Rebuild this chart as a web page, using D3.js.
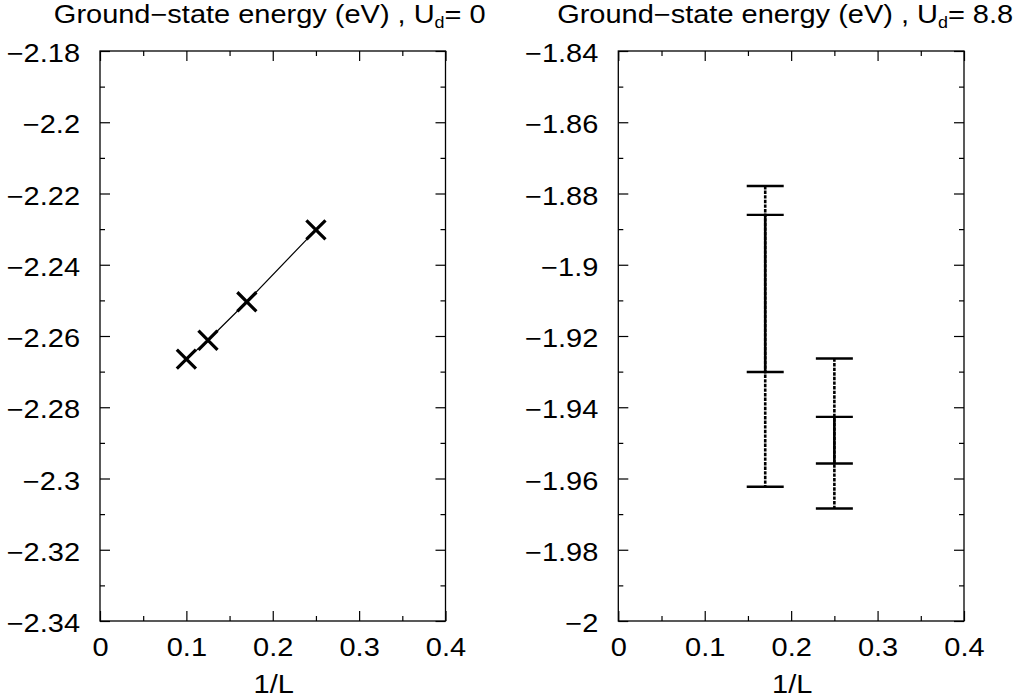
<!DOCTYPE html>
<html>
<head>
<meta charset="utf-8">
<script src="https://cdn.jsdelivr.net/npm/d3@7"></script>
<style>
  html, body { margin: 0; padding: 0; background: #fff; }
  svg { display: block; font-family: "Liberation Sans", Arial, Helvetica, sans-serif; }
</style>
</head>
<body>
<svg id="chart" width="1017" height="700"></svg>
<script>
// Shared x axis (1/L)
const xTicks = [0, 0.1, 0.2, 0.3, 0.4];
const xMinorTicks = [0.05, 0.15, 0.25, 0.35];

// Left panel: U_d = 0
const leftYTicks = [-2.34, -2.32, -2.30, -2.28, -2.26, -2.24, -2.22, -2.20, -2.18];
const leftYMinor = [-2.33, -2.31, -2.29, -2.27, -2.25, -2.23, -2.21, -2.19];
const invL = [0.1, 0.125, 0.17, 0.25];
const energyU0 = [-2.2665, -2.2612, -2.2504, -2.2302];

// Right panel: U_d = 8.8, nested intervals
const rightYTicks = [-2.00, -1.98, -1.96, -1.94, -1.92, -1.90, -1.88, -1.86, -1.84];
const rightYMinor = [-1.99, -1.97, -1.95, -1.93, -1.91, -1.89, -1.87, -1.85];
const barX = [0.17, 0.25];
const barOuterHi = [-1.8779, -1.9263];
const barInnerHi = [-1.8860, -1.9427];
const barInnerLo = [-1.9301, -1.9558];
const barOuterLo = [-1.9623, -1.9684];

const svg = d3.select("#chart");
const plotTop = 51, plotBottom = 621;
const FS = 25.2;      // font size
const SX = 1.15;      // horizontal stretch of the lettering
const fmt = d3.format("~g");

function frame(x0, x1, yDomain, yMajor, yMinor, titleVal, titleShift) {
  const x = d3.scaleLinear().domain([0, 0.4]).range([x0, x1]);
  const y = d3.scaleLinear().domain(yDomain).range([plotBottom, plotTop]);
  const g = svg.append("g");

  // axes on all four sides, ticks pointing inward
  const axes = [
    [d3.axisBottom(x).tickValues(xTicks).tickSize(-10).tickPadding(17).tickFormat(fmt), `translate(0,${plotBottom})`, "bottom"],
    [d3.axisTop(x).tickValues(xTicks).tickSize(-10).tickFormat(""), `translate(0,${plotTop})`, ""],
    [d3.axisLeft(y).tickValues(yMajor).tickSize(-10).tickPadding(20).tickFormat(fmt), `translate(${x0},0)`, "left"],
    [d3.axisRight(y).tickValues(yMajor).tickSize(-10).tickFormat(""), `translate(${x1},0)`, ""],
    [d3.axisBottom(x).tickValues(xMinorTicks).tickSize(-5).tickFormat(""), `translate(0,${plotBottom})`, ""],
    [d3.axisTop(x).tickValues(xMinorTicks).tickSize(-5).tickFormat(""), `translate(0,${plotTop})`, ""],
    [d3.axisLeft(y).tickValues(yMinor).tickSize(-5).tickFormat(""), `translate(${x0},0)`, ""],
    [d3.axisRight(y).tickValues(yMinor).tickSize(-5).tickFormat(""), `translate(${x1},0)`, ""]
  ];
  axes.forEach(([ax, tr, side]) => {
    const a = g.append("g").attr("transform", tr).call(ax);
    a.select(".domain").remove();
    a.selectAll("line").attr("stroke", "#000").attr("stroke-width", 1.2);
    const txt = a.selectAll("text").attr("fill", "#000").attr("font-size", FS)
      .attr("font-family", "Liberation Sans, Arial, sans-serif");
    if (side === "bottom") txt.attr("dy", "0.71em").attr("transform", `scale(${SX},1)`);
    if (side === "left") txt.attr("dy", "0.42em").attr("x", -20 / SX).attr("transform", `scale(${SX},1)`);
  });

  // plot frame
  g.append("rect").attr("x", x0).attr("y", plotTop).attr("width", x1 - x0).attr("height", plotBottom - plotTop)
    .attr("fill", "none").attr("stroke", "#000").attr("stroke-width", 1.3);

  // x axis title
  g.append("g").attr("transform", `translate(${(x0 + x1) / 2 + 1},693) scale(${SX},1)`)
    .append("text").attr("text-anchor", "middle").attr("font-size", FS).text("1/L");

  // panel title with subscript
  const t = g.append("g").attr("transform", `translate(${(x0 + x1) / 2 + titleShift},23) scale(${SX},1)`)
    .append("text").attr("text-anchor", "middle").attr("font-size", FS);
  t.append("tspan").text("Ground\u2212state energy (eV) , U");
  t.append("tspan").attr("font-size", FS * 0.62).attr("dy", 5).text("d");
  t.append("tspan").attr("dy", -5).text("= " + titleVal);

  return { g, x, y };
}

// Left panel
const L = frame(100, 445.5, [-2.34, -2.18], leftYTicks, leftYMinor, "0", -3);
const pts = invL.map((v, i) => [v, energyU0[i]]);
L.g.append("path").datum(pts)
  .attr("d", d3.line().x(d => L.x(d[0])).y(d => L.y(d[1])))
  .attr("fill", "none").attr("stroke", "#000").attr("stroke-width", 1.2);
L.g.selectAll(".mk").data(pts).join("path")
  .attr("d", d3.symbol(d3.symbolTimes, 240))
  .attr("transform", d => `translate(${L.x(d[0])},${L.y(d[1])})`)
  .attr("fill", "none").attr("stroke", "#000").attr("stroke-width", 3.2);

// Right panel
const R = frame(618.3, 964, [-2.00, -1.84], rightYTicks, rightYMinor, "8.8", -6);
const capHalf = 18.5;
const bars = barX.map((v, i) => ({ x: v, oh: barOuterHi[i], ih: barInnerHi[i], il: barInnerLo[i], ol: barOuterLo[i] }));
const bg = R.g.selectAll(".bar").data(bars).join("g");
// dotted outer range
bg.append("line")
  .attr("x1", d => R.x(d.x)).attr("x2", d => R.x(d.x))
  .attr("y1", d => R.y(d.oh)).attr("y2", d => R.y(d.ol))
  .attr("stroke", "#000").attr("stroke-width", 2.6).attr("stroke-dasharray", "3.4,1.2");
// solid inner range
bg.append("line")
  .attr("x1", d => R.x(d.x)).attr("x2", d => R.x(d.x))
  .attr("y1", d => R.y(d.ih)).attr("y2", d => R.y(d.il))
  .attr("stroke", "#000").attr("stroke-width", 2.6);
// caps
bg.selectAll(".cap").data(d => [d.oh, d.ih, d.il, d.ol].map(v => ({ x: d.x, v })))
  .join("line")
  .attr("x1", c => R.x(c.x) - capHalf).attr("x2", c => R.x(c.x) + capHalf)
  .attr("y1", c => R.y(c.v)).attr("y2", c => R.y(c.v))
  .attr("stroke", "#000").attr("stroke-width", 2.4);
</script>
</body>
</html>
